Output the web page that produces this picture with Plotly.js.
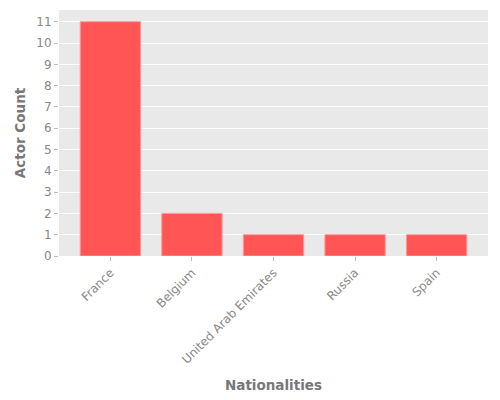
<!DOCTYPE html>
<html>
<head>
<meta charset="utf-8">
<script src="https://cdn.plot.ly/plotly-3.0.1.min.js"></script>
<style>
  html, body { margin: 0; padding: 0; background: #fff; }
  #chart { width: 500px; height: 400px; }
</style>
</head>
<body>
<div id="chart"></div>
<script>
// ── Datos ────────────────────────────────────────────────
const nationalities = ['France', 'Belgium', 'United Arab Emirates', 'Russia', 'Spain'];
const actorCounts   = [11, 2, 1, 1, 1];
const yTicks        = [0, 1, 2, 3, 4, 5, 6, 7, 8, 9, 10, 11];

const grey = '#777777';

const trace = {
  type: 'bar',
  x: nationalities,
  y: actorCounts,
  marker: {
    color: '#ff5555',
    line: { color: '#ff9a9a', width: 1 }
  },
  hoverinfo: 'x+y'
};

const layout = {
  width: 500,
  height: 400,
  paper_bgcolor: '#ffffff',
  plot_bgcolor:  '#e9e9e9',
  font: { family: 'DejaVu Sans', size: 12, color: '#888888' },
  margin: { l: 59, r: 12, t: 10, b: 144 },
  bargap: 0.26,
  showlegend: false,
  xaxis: {
    title: { text: 'Nationalities', font: { size: 13.5, color: grey, weight: 'bold' }, standoff: 14 },
    range: [-0.63, 4.63],
    tickangle: -45,
    ticks: 'outside',
    ticklen: 4,
    tickcolor: '#bbbbbb',
    showgrid: false,
    zeroline: false,
    showline: false
  },
  yaxis: {
    title: { text: 'Actor Count', font: { size: 13.5, color: grey, weight: 'bold' }, standoff: 7 },
    range: [0, 11.55],
    tickvals: yTicks,
    ticks: 'outside',
    ticklen: 4,
    tickcolor: '#bbbbbb',
    gridcolor: '#ffffff',
    gridwidth: 1,
    zeroline: false,
    showline: false
  }
};

Plotly.newPlot('chart', [trace], layout, { displayModeBar: false, staticPlot: true });
</script>
</body>
</html>
